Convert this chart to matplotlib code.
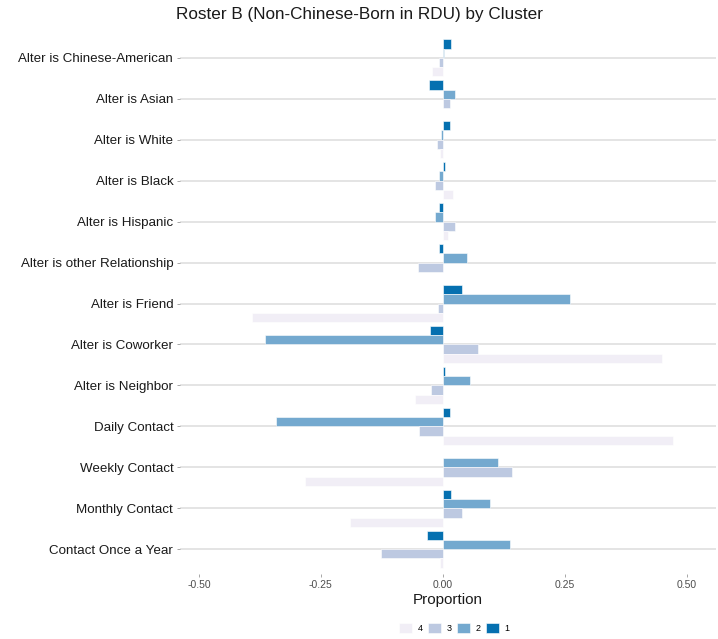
import numpy as np
import matplotlib.pyplot as plt

# categories top to bottom
categories = [
    "Alter is Chinese-American",
    "Alter is Asian",
    "Alter is White",
    "Alter is Black",
    "Alter is Hispanic",
    "Alter is other Relationship",
    "Alter is Friend",
    "Alter is Coworker",
    "Alter is Neighbor",
    "Daily Contact",
    "Weekly Contact",
    "Monthly Contact",
    "Contact Once a Year",
]

# proportions by cluster
cluster1 = [0.017, -0.029, 0.014, 0.005, -0.007, -0.008, 0.039, -0.026, 0.005, 0.014, 0.001, 0.017, -0.032]
cluster2 = [0.003, 0.025, -0.003, -0.008, -0.017, 0.049, 0.260, -0.365, 0.056, -0.343, 0.114, 0.097, 0.137]
cluster3 = [-0.008, 0.014, -0.011, -0.017, 0.025, -0.050, -0.010, 0.073, -0.024, -0.049, 0.141, 0.039, -0.126]
cluster4 = [-0.022, 0.0, -0.006, 0.020, 0.010, 0.0, -0.391, 0.449, -0.056, 0.473, -0.283, -0.190, -0.005]

cluster_names = ["1", "2", "3", "4"]
colors = ["#0570b0", "#74a9cf", "#bdc9e1", "#f1eef6"]

plt.rcParams["font.family"] = ["Liberation Sans", "DejaVu Sans"]

fig = plt.figure(figsize=(7.18, 6.39), dpi=100)
ax = fig.add_axes([0.25, 0.102, 0.747, 0.846])

y = np.arange(len(categories))
h = 0.225
# cluster 1 on top of each group, cluster 4 at the bottom
offsets = [-1.5 * h, -0.5 * h, 0.5 * h, 1.5 * h]
all_vals = [cluster1, cluster2, cluster3, cluster4]
handles = []
for vals, off, col, name in zip(all_vals, offsets, colors, cluster_names):
    b = ax.barh(y + off, vals, height=h, color=col, edgecolor="white", linewidth=0.4, label=name, zorder=3)
    handles.append(b)

ax.set_yticks(y)
ax.set_yticklabels(categories, fontsize=9.6, color="#1a1a1a")
ax.set_ylim(len(categories) - 0.4, -0.6)
ax.set_xlim(-0.54, 0.56)
ax.set_xticks([-0.5, -0.25, 0, 0.25, 0.5])
ax.set_xticklabels(["-0.50", "-0.25", "0.00", "0.25", "0.50"], fontsize=7.5, color="#4d4d4d")
ax.set_xlabel("Proportion", fontsize=11, color="#1a1a1a", labelpad=2)

ax.grid(axis="y", color="#dcdcdc", linewidth=1.1, zorder=0)
ax.grid(axis="x", visible=False)
for s in ax.spines.values():
    s.set_visible(False)
ax.tick_params(axis="both", length=2.5, color="#999999", width=0.6, pad=2)

# title centred over the whole figure
fig.text(0.5, 1 - 15 / 639, "Roster B (Non-Chinese-Born in RDU) by Cluster", fontsize=12.3,
         color="#1a1a1a", ha="center", va="center")

# legend in order 4, 3, 2, 1
fig.legend(handles[::-1], cluster_names[::-1], loc="center", bbox_to_anchor=(454 / 718, 1 - 628 / 639),
           ncol=4, frameon=False, fontsize=6.5, handlelength=1.45, handleheight=1.45,
           columnspacing=0.6, handletextpad=0.6)

fig.savefig("out.png", dpi=100)
